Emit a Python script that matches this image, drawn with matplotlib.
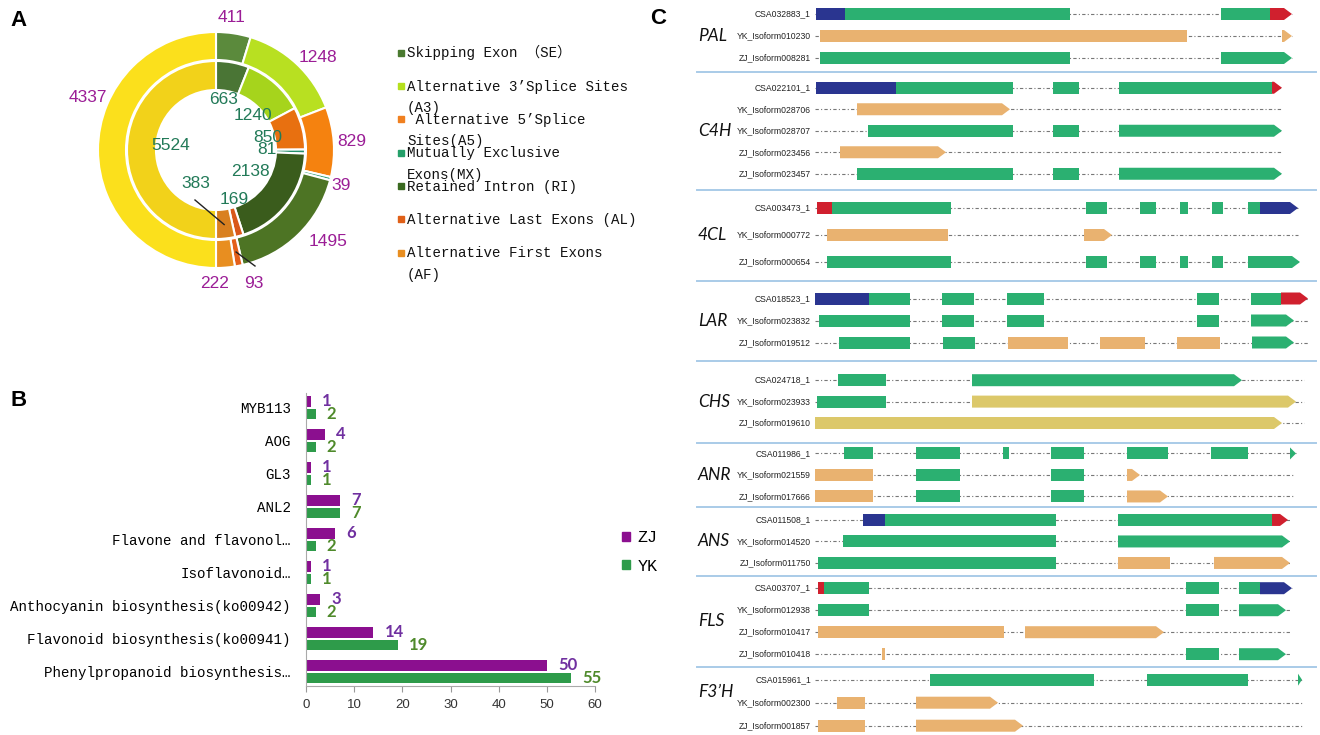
import numpy as np
import matplotlib.pyplot as plt
from matplotlib.patches import Polygon, Rectangle, Patch
from matplotlib.font_manager import FontProperties

W, H = 1320, 735
plt.rcParams['font.family'] = ['Liberation Sans', 'DejaVu Sans']
mono = ['Liberation Mono', 'Noto Sans CJK SC', 'DejaVu Sans']

# ---------------- Panel A: alternative splicing events (two rings)
as_types = ['Skipping Exon （SE）', 'Alternative 3’Splice Sites\n(A3)',
            ' Alternative 5’Splice\nSites(A5)', 'Mutually Exclusive\nExons(MX)',
            'Retained Intron (RI)', 'Alternative Last Exons (AL)',
            'Alternative First Exons\n(AF)']
outer_vals = [411, 1248, 829, 39, 1495, 93, 222, 4337]
inner_vals = [663, 1240, 850, 81, 2138, 169, 383, 5524]
outer_colors = ['#5b8a3c', '#b8e021', '#f5820f', '#2e9e78', '#4d7424', '#e4601a', '#e88e20', '#fbe01c']
inner_colors = ['#4a7535', '#a6d41c', '#e87010', '#25906a', '#3a5c1c', '#d9581a', '#d98020', '#f2d21a']
legend_colors = ['#4a7a30', '#b5e01e', '#f08020', '#25a06a', '#3a6a20', '#e06018', '#e88e20']

# label positions (pixels from ring centre, y up)
outer_label_xy = [(16, 132), (102, 93), (136, 8), (125, -35), (112, -92), (38, -133), (-1, -133), (-128, 53)]
inner_label_xy = [(8, 51), (37, 35), (52, 13), (51, 0), (34, -22), (18, -50), (-20, -33), (-45, 5)]

# ---------------- Panel B: genes / pathways
pathways = ['MYB113', 'AOG', 'GL3', 'ANL2', 'Flavone and flavonol…', 'Isoflavonoid…',
            'Anthocyanin biosynthesis(ko00942)', 'Flavonoid biosynthesis(ko00941)',
            'Phenylpropanoid biosynthesis…']
zj_counts = [1, 4, 1, 7, 6, 1, 3, 14, 50]
yk_counts = [2, 2, 1, 7, 2, 1, 2, 19, 55]

# ---------------- Panel C: isoform structures (g=CDS, b/r=UTR, o/k=novel)
pal_tx = [('CSA032883_1', [(816, 845, 'b'), (845, 1070, 'g'), (1221, 1270, 'g'), (1270, 1292, 'r')]),
          ('YK_Isoform010230', [(820, 1187, 'o'), (1282, 1292, 'o')]),
          ('ZJ_Isoform008281', [(820, 1070, 'g'), (1221, 1292, 'g')])]
c4h_tx = [('CSA022101_1', [(816, 896, 'b'), (896, 1013, 'g'), (1053, 1079, 'g'), (1119, 1272, 'g'), (1272, 1282, 'r')]),
          ('YK_Isoform028706', [(857, 1010, 'o')]),
          ('YK_Isoform028707', [(868, 1013, 'g'), (1053, 1079, 'g'), (1119, 1282, 'g')]),
          ('ZJ_Isoform023456', [(840, 946, 'o')]),
          ('ZJ_Isoform023457', [(857, 1013, 'g'), (1053, 1079, 'g'), (1119, 1282, 'g')])]
cl4_tx = [('CSA003473_1', [(817, 832, 'r'), (832, 951, 'g'), (1086, 1107, 'g'), (1140, 1156, 'g'),
                           (1180, 1188, 'g'), (1212, 1223, 'g'), (1248, 1260, 'g'), (1260, 1298, 'b')]),
          ('YK_Isoform000772', [(827, 948, 'o'), (1084, 1112, 'o')]),
          ('ZJ_Isoform000654', [(827, 951, 'g'), (1086, 1107, 'g'), (1140, 1156, 'g'), (1180, 1188, 'g'),
                                (1212, 1223, 'g'), (1248, 1300, 'g')])]
lar_tx = [('CSA018523_1', [(815, 869, 'b'), (869, 910, 'g'), (942, 974, 'g'), (1007, 1044, 'g'),
                           (1197, 1219, 'g'), (1251, 1281, 'g'), (1281, 1308, 'r')]),
          ('YK_Isoform023832', [(819, 910, 'g'), (942, 974, 'g'), (1007, 1044, 'g'), (1197, 1219, 'g'), (1251, 1294, 'g')]),
          ('ZJ_Isoform019512', [(839, 910, 'g'), (943, 975, 'g'), (1008, 1068, 'o'), (1100, 1145, 'o'),
                                (1177, 1220, 'o'), (1252, 1294, 'g')])]
chs_tx = [('CSA024718_1', [(838, 886, 'g'), (972, 1242, 'g')]),
          ('YK_Isoform023933', [(817, 886, 'g'), (972, 1296, 'k')]),
          ('ZJ_Isoform019610', [(815, 1282, 'k')])]
anr_tx = [('CSA011986_1', [(844, 873, 'g'), (916, 960, 'g'), (1003, 1009, 'g'), (1051, 1084, 'g'),
                           (1127, 1168, 'g'), (1211, 1248, 'g'), (1290, 1296, 'g')]),
          ('YK_Isoform021559', [(815, 873, 'o'), (916, 960, 'g'), (1051, 1084, 'g'), (1127, 1140, 'o')]),
          ('ZJ_Isoform017666', [(815, 873, 'o'), (916, 960, 'g'), (1051, 1084, 'g'), (1127, 1168, 'o')])]
ans_tx = [('CSA011508_1', [(863, 885, 'b'), (885, 1056, 'g'), (1118, 1272, 'g'), (1272, 1288, 'r')]),
          ('YK_Isoform014520', [(843, 1056, 'g'), (1118, 1290, 'g')]),
          ('ZJ_Isoform011750', [(818, 1056, 'g'), (1118, 1170, 'o'), (1214, 1290, 'o')])]
fls_tx = [('CSA003707_1', [(818, 824, 'r'), (824, 869, 'g'), (1186, 1219, 'g'), (1239, 1260, 'g'), (1260, 1292, 'b')]),
          ('YK_Isoform012938', [(818, 869, 'g'), (1186, 1219, 'g'), (1239, 1286, 'g')]),
          ('ZJ_Isoform010417', [(818, 1004, 'o'), (1025, 1164, 'o')]),
          ('ZJ_Isoform010418', [(882, 885, 'o'), (1186, 1219, 'g'), (1239, 1286, 'g')])]
f3h_tx = [('CSA015961_1', [(930, 1094, 'g'), (1147, 1248, 'g'), (1298, 1302, 'g')]),
          ('YK_Isoform002300', [(837, 865, 'o'), (916, 998, 'o')]),
          ('ZJ_Isoform001857', [(818, 865, 'o'), (916, 1023, 'o')])]
gene_names = ['PAL', 'C4H', '4CL', 'LAR', 'CHS', 'ANR', 'ANS', 'FLS', 'F3’H']
gene_rows = [pal_tx, c4h_tx, cl4_tx, lar_tx, chs_tx, anr_tx, ans_tx, fls_tx, f3h_tx]
gene_end = [1292, 1282, 1298, 1308, 1304, 1295, 1290, 1291, 1302]

seg_colors = {'g': '#2bb071', 'b': '#2a3590', 'r': '#d0202e', 'o': '#e9b270', 'k': '#dcc86a'}
group_pitch = [22, 21.5, 27, 22, 21.4, 21.5, 21.5, 22, 23]
group_pad = [3, 5, 5, 7, 9, 0, 2, 1.5, 1.5]
gene_label_dy = [0, 0, 0, 0, 0, 0, 0, 0, -11]


def px_rect(x0, y0, x1, y1):
    return [x0 / W, 1 - y1 / H, (x1 - x0) / W, (y1 - y0) / H]


fig = plt.figure(figsize=(W / 100, H / 100), dpi=100)

# panel letters
for letter, (x, y) in zip('ABC', [(10, 20), (10, 401), (650, 19)]):
    fig.text(x / W, 1 - y / H, letter, fontsize=16, fontweight='bold', va='center', ha='left')

# ---- A
axA = fig.add_axes(px_rect(66, 0, 366, 300))
wp = dict(edgecolor='white', linewidth=1.5)
axA.pie(outer_vals, radius=118, colors=outer_colors, startangle=90, counterclock=False,
        wedgeprops=dict(width=28, **wp))
axA.pie(inner_vals, radius=89, colors=inner_colors, startangle=90, counterclock=False,
        wedgeprops=dict(width=29, **wp))
axA.set_xlim(-150, 150)
axA.set_ylim(-150, 150)
axA.set_aspect('equal')
axA.axis('off')

for v, (x, y) in zip(outer_vals, outer_label_xy):
    axA.text(x, y, str(v), color='#9b1d96', fontsize=12.5, ha='center', va='center')
for v, (x, y) in zip(inner_vals, inner_label_xy):
    axA.text(x, y, str(v), color='#227a58', fontsize=12.5, ha='center', va='center')


def mid_point(vals, idx, r):
    c = np.cumsum(vals)
    th = np.deg2rad((c[idx] - vals[idx] / 2) / c[-1] * 360)
    return r * np.sin(th), r * np.cos(th)


# leader lines for 383 (inner AF) and 93 (outer AL)
px_, py_ = mid_point(inner_vals, 6, 75)
lx, ly = inner_label_xy[6]
axA.plot([lx - 1, px_], [ly - 17, py_], color='#222222', lw=1)
px_, py_ = mid_point(outer_vals, 5, 104)
lx, ly = outer_label_xy[5]
axA.plot([px_, lx + 1], [py_, ly + 17], color='#222222', lw=1)

for k, (lab, col) in enumerate(zip(as_types, legend_colors)):
    yc = 52.7 + k * 33.3
    fig.add_artist(Rectangle((398 / W, 1 - (yc + 3) / H), 6 / W, 6 / H,
                             transform=fig.transFigure, color=col))
    for i, line in enumerate(lab.split('\n')):
        fig.text(407 / W, 1 - (yc + 4.7 + i * 21.5) / H, line, family=mono, fontsize=10.2,
                 va='baseline', ha='left', color='#111111')

# ---- B
axB = fig.add_axes(px_rect(306, 393, 595, 686))
n = len(pathways)
ypos = np.arange(n)[::-1]
purple, green = '#8b0f8f', '#2e9b4a'
axB.barh(ypos + 0.19, zj_counts, height=0.31, color=purple)
axB.barh(ypos - 0.18, yk_counts, height=0.31, color=green)
for y, a, b in zip(ypos, zj_counts, yk_counts):
    axB.annotate(str(a), (a, y + 0.22), xytext=(8, 0), textcoords='offset points',
                 va='center', ha='left', color='#7030a0', fontsize=12, fontweight='bold', family='Lato')
    axB.annotate(str(b), (b, y - 0.2), xytext=(8, 0), textcoords='offset points',
                 va='center', ha='left', color='#4f8a2b', fontsize=12, fontweight='bold', family='Lato')
axB.set_xlim(0, 60)
axB.set_ylim(-0.43, 8.45)
axB.set_xticks(range(0, 61, 10))
axB.set_yticks(ypos)
axB.set_yticklabels(pathways, fontfamily=mono, fontsize=10.2)
axB.tick_params(axis='y', length=0, pad=11)
axB.tick_params(axis='x', length=4, color='#999999', labelsize=9.5, labelcolor='#333333', pad=5)
for s in ['top', 'right']:
    axB.spines[s].set_visible(False)
for s in ['left', 'bottom']:
    axB.spines[s].set_color('#aaaaaa')

fig.legend(handles=[Patch(color=purple, label='ZJ'), Patch(color=green, label='YK')],
           loc='center left', bbox_to_anchor=(622 / W, 1 - 552 / H), frameon=False,
           prop=FontProperties(family=mono, size=12), handlelength=0.45, handleheight=0.45,
           handletextpad=0.5, labelspacing=0.8, borderaxespad=0, borderpad=0)

# ---- C
axC = fig.add_axes([690 / W, 0, 630 / W, 1])
axC.set_xlim(690, 1320)
axC.set_ylim(735, 0)
axC.axis('off')
half = 6
cursor = 0
for g, (gname, rows) in enumerate(zip(gene_names, gene_rows)):
    pitch, pad = group_pitch[g], group_pad[g]
    ys = [cursor + pad + pitch * (i + 0.5) for i in range(len(rows))]
    for (tx, segs), y in zip(rows, ys):
        end = max(gene_end[g], segs[-1][1])
        axC.plot([815, end], [y, y], color='#777777', lw=0.8, ls=(0, (3, 2, 1, 2)), zorder=1)
        axC.text(811, y, tx, ha='right', va='center', fontsize=6.2, color='#222222')
        for j, (x0, x1, kind) in enumerate(segs):
            if j == len(segs) - 1:
                tip = min(8, x1 - x0)
                pts = [(x0, y - half), (x1 - tip, y - half), (x1, y), (x1 - tip, y + half), (x0, y + half)]
            else:
                pts = [(x0, y - half), (x1, y - half), (x1, y + half), (x0, y + half)]
            axC.add_patch(Polygon(pts, closed=True, facecolor=seg_colors[kind], edgecolor='none', zorder=2))
    axC.text(698, np.mean(ys) + gene_label_dy[g], gname, ha='left', va='center', fontsize=12.5,
             fontstyle='italic', family='Lato', color='#111111')
    cursor += 2 * pad + pitch * len(rows)
    if g < len(gene_names) - 1:
        axC.plot([697, 1316], [cursor, cursor], color='#a9cbe8', lw=1.4, zorder=1)

fig.savefig('out.png', dpi=100)
